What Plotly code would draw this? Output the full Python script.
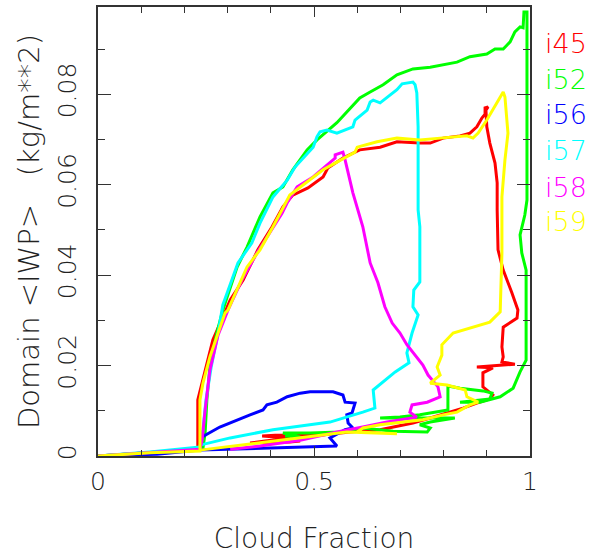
import plotly.graph_objects as go

# ---- data (cloud fraction, domain-mean IWP) ----
cf_i45 = [0, 0.120, 0.231, 0.231, 0.248, 0.266, 0.289, 0.306, 0.336, 0.370, 0.403, 0.428, 0.451, 0.486,
          0.521, 0.532, 0.567, 0.606, 0.653, 0.692, 0.745, 0.769, 0.799, 0.838, 0.861, 0.877, 0.889, 0.896,
          0.896, 0.903, 0.898, 0.900, 0.907, 0.919, 0.924, 0.924, 0.926, 0.938, 0.958, 0.972, 0.970, 0.938,
          0.935, 0.938, 0.935, 0.965, 0.877, 0.914, 0.891, 0.891, 0.914, 0.907, 0.877, 0.845, 0.769, 0.729,
          0.653, 0.583, 0.514, 0.410, 0.380, 0.444, 0.387, 0.352, 0.444, 0.468]
iwp_i45 = [0, 0.0007, 0.0015, 0.0124, 0.0190, 0.0257, 0.0307, 0.0345, 0.0389, 0.0456, 0.0507, 0.0551, 0.0577,
           0.0593, 0.0617, 0.0637, 0.0659, 0.0677, 0.0683, 0.0695, 0.0692, 0.0692, 0.0703, 0.0708, 0.0714,
           0.0728, 0.0748, 0.0756, 0.0770, 0.0772, 0.0765, 0.0728, 0.0692, 0.0648, 0.0604, 0.0544, 0.0456,
           0.0411, 0.0361, 0.0323, 0.0305, 0.0285, 0.0241, 0.0219, 0.0208, 0.0203, 0.0197, 0.0195, 0.0184,
           0.0153, 0.0135, 0.0126, 0.0117, 0.0106, 0.0084, 0.0073, 0.0058, 0.0053, 0.0046, 0.0046, 0.0044,
           0.0040, 0.0033, 0.0029, 0.0031, 0.0033]

cf_i52 = [0, 0.074, 0.144, 0.213, 0.243, 0.248, 0.252, 0.259, 0.275, 0.289, 0.322, 0.345, 0.375, 0.405, 0.428,
          0.451, 0.484, 0.507, 0.553, 0.576, 0.606, 0.630, 0.660, 0.692, 0.729, 0.769, 0.799, 0.831, 0.861,
          0.900, 0.919, 0.938, 0.947, 0.954, 0.965, 0.977, 0.984, 0.986, 0.993, 0.993, 0.993, 0.988, 0.977,
          0.981, 0.991, 0.991, 0.977, 0.961, 0.931, 0.884, 0.838, 0.907, 0.912, 0.891, 0.838, 0.810, 0.810,
          0.745, 0.699, 0.653, 0.826, 0.769, 0.745, 0.769, 0.762, 0.683, 0.613, 0.560, 0.491, 0.428, 0.468,
          0.433]
iwp_i52 = [0, 0.0004, 0.0009, 0.0013, 0.0018, 0.0051, 0.0124, 0.0197, 0.0272, 0.0323, 0.0418, 0.0462, 0.0529,
           0.0582, 0.0595, 0.0633, 0.0677, 0.0699, 0.0737, 0.0761, 0.0792, 0.0805, 0.0821, 0.0843, 0.0856,
           0.0860, 0.0865, 0.0871, 0.0883, 0.0889, 0.0900, 0.0900, 0.0909, 0.0916, 0.0938, 0.0949, 0.0947,
           0.0982, 0.0982, 0.0958, 0.0566, 0.0533, 0.0489, 0.0449, 0.0411, 0.0212, 0.0186, 0.0150, 0.0131,
           0.0119, 0.0119, 0.0126, 0.0139, 0.0144, 0.0150, 0.0155, 0.0102, 0.0091, 0.0086, 0.0084, 0.0084,
           0.0075, 0.0069, 0.0062, 0.0053, 0.0055, 0.0062, 0.0053, 0.0051, 0.0051, 0.0042, 0.0044]

cf_i56 = [0, 0.137, 0.236, 0.553, 0.537, 0.572, 0.590, 0.579, 0.576, 0.588, 0.595, 0.572, 0.567, 0.544, 0.491,
          0.468, 0.438, 0.414, 0.391, 0.382, 0.352, 0.313, 0.282, 0.248, 0.238, 0.238]
iwp_i56 = [0, 0.0004, 0.0013, 0.0022, 0.0040, 0.0058, 0.0062, 0.0073, 0.0091, 0.0095, 0.0117, 0.0119, 0.0135,
           0.0142, 0.0142, 0.0139, 0.0131, 0.0119, 0.0113, 0.0102, 0.0091, 0.0075, 0.0064, 0.0046, 0.0040,
           0.0024]

cf_i57 = [0, 0.120, 0.236, 0.243, 0.250, 0.262, 0.278, 0.289, 0.324, 0.356, 0.375, 0.405, 0.438, 0.456, 0.498,
          0.507, 0.514, 0.530, 0.553, 0.590, 0.595, 0.623, 0.630, 0.637, 0.653, 0.676, 0.692, 0.704, 0.729,
          0.734, 0.738, 0.741, 0.741, 0.745, 0.745, 0.731, 0.729, 0.741, 0.727, 0.715, 0.720, 0.688, 0.637,
          0.641, 0.613, 0.537, 0.405, 0.306, 0.236]
iwp_i57 = [0, 0.0009, 0.0020, 0.0058, 0.0124, 0.0197, 0.0272, 0.0334, 0.0427, 0.0471, 0.0515, 0.0573, 0.0610,
           0.0639, 0.0683, 0.0706, 0.0717, 0.0721, 0.0714, 0.0728, 0.0743, 0.0765, 0.0783, 0.0787, 0.0781,
           0.0798, 0.0810, 0.0823, 0.0827, 0.0821, 0.0803, 0.0728, 0.0544, 0.0507, 0.0385, 0.0367, 0.0330,
           0.0312, 0.0272, 0.0228, 0.0206, 0.0186, 0.0146, 0.0106, 0.0097, 0.0075, 0.0058, 0.0040, 0.0024]

cf_i58 = [0, 0.120, 0.236, 0.241, 0.248, 0.259, 0.278, 0.301, 0.333, 0.368, 0.398, 0.426, 0.438, 0.461, 0.498,
          0.532, 0.549, 0.549, 0.567, 0.572, 0.590, 0.613, 0.630, 0.648, 0.664, 0.681, 0.699, 0.715, 0.734,
          0.752, 0.764, 0.787, 0.792, 0.762, 0.727, 0.722, 0.738, 0.669, 0.613, 0.553, 0.468, 0.375, 0.306]
iwp_i58 = [0, 0.0007, 0.0015, 0.0035, 0.0102, 0.0190, 0.0268, 0.0323, 0.0389, 0.0449, 0.0493, 0.0537, 0.0560,
           0.0595, 0.0617, 0.0644, 0.0659, 0.0666, 0.0672, 0.0655, 0.0582, 0.0507, 0.0427, 0.0383, 0.0330,
           0.0294, 0.0272, 0.0246, 0.0223, 0.0201, 0.0179, 0.0153, 0.0131, 0.0119, 0.0113, 0.0097, 0.0086,
           0.0075, 0.0064, 0.0053, 0.0035, 0.0022, 0.0015]

cf_i59 = [0, 0.120, 0.236, 0.236, 0.243, 0.259, 0.278, 0.294, 0.301, 0.345, 0.375, 0.405, 0.444, 0.475, 0.521,
          0.553, 0.595, 0.600, 0.646, 0.692, 0.745, 0.792, 0.831, 0.854, 0.868, 0.880, 0.900, 0.914, 0.931,
          0.938, 0.942, 0.949, 0.942, 0.935, 0.935, 0.931, 0.907, 0.822, 0.796, 0.796, 0.785, 0.792, 0.769,
          0.808, 0.850, 0.854, 0.880, 0.861, 0.831, 0.799, 0.752, 0.706, 0.653, 0.613, 0.600, 0.653, 0.692,
          0.576, 0.421, 0.236]
iwp_i59 = [0, 0.0007, 0.0011, 0.0124, 0.0161, 0.0219, 0.0272, 0.0316, 0.0323, 0.0418, 0.0456, 0.0507, 0.0577,
           0.0599, 0.0633, 0.0650, 0.0672, 0.0683, 0.0695, 0.0703, 0.0699, 0.0703, 0.0706, 0.0708, 0.0703,
           0.0714, 0.0743, 0.0765, 0.0794, 0.0805, 0.0794, 0.0714, 0.0655, 0.0573, 0.0449, 0.0319, 0.0296,
           0.0272, 0.0246, 0.0223, 0.0197, 0.0179, 0.0161, 0.0157, 0.0146, 0.0131, 0.0119, 0.0113, 0.0097,
           0.0091, 0.0080, 0.0075, 0.0069, 0.0062, 0.0053, 0.0051, 0.0049, 0.0053, 0.0035, 0.0013]

run_names = ["i45", "i52", "i56", "i57", "i58", "i59"]
run_colors = ["#ff0000", "#00ff00", "#0000ff", "#00ffff", "#ff00ff", "#ffff00"]
series_x = [cf_i45, cf_i52, cf_i56, cf_i57, cf_i58, cf_i59]
series_y = [iwp_i45, iwp_i52, iwp_i56, iwp_i57, iwp_i58, iwp_i59]

x_tick_vals = [0, 0.5, 1]
x_tick_text = ["0", "0.5", "1"]
y_tick_vals = [0, 0.02, 0.04, 0.06, 0.08]
y_tick_text = ["0", "0.02", "0.04", "0.06", "0.08"]

FONT = "DejaVu Sans"
TXT = "#222222"

fig = go.Figure()
for name, col, xs, ys in zip(run_names, run_colors, series_x, series_y):
    fig.add_trace(go.Scatter(x=xs, y=ys, mode="lines", name=name,
                             line=dict(color=col, width=3), showlegend=False))

# legend labels on the right
label_y = [0.9176, 0.8396, 0.7595, 0.6815, 0.5991, 0.5212]
for name, col, ly in zip(run_names, run_colors, label_y):
    fig.add_annotation(text=name, xref="paper", yref="paper", x=1.031, y=ly,
                       xanchor="left", yanchor="middle", showarrow=False,
                       font=dict(family=FONT, size=27, color=col, weight=300))

axis_common = dict(showline=True, linecolor="#333333", linewidth=1.5, mirror="ticks",
                   ticks="inside", showgrid=False, zeroline=False, automargin=False,
                   tickfont=dict(family=FONT, size=25, color=TXT, weight=300),
                   tickcolor="#333333", tickwidth=1.2)

fig.update_xaxes(range=[0, 1], tickvals=x_tick_vals, ticktext=x_tick_text, ticklen=10,
                 ticklabelstandoff=2,
                 minor=dict(dtick=0.1, ticks="inside", ticklen=6, tickcolor="#333333", tickwidth=1.2, showgrid=False),
                 title=dict(text="Cloud Fraction", font=dict(family=FONT, size=28, color=TXT, weight=300), standoff=34),
                 **axis_common)
fig.update_yaxes(range=[0, 0.0993], tickvals=y_tick_vals, ticktext=y_tick_text, ticklen=13, tickangle=-90,
                 ticklabelstandoff=10,
                 minor=dict(dtick=0.01, ticks="inside", ticklen=7, tickcolor="#333333", tickwidth=1.2, showgrid=False),
                 title=dict(text="Domain &lt;IWP&gt;   (kg/m**2)", font=dict(family=FONT, size=29, color=TXT, weight=300), standoff=5),
                 **axis_common)

fig.update_layout(width=597, height=557, margin=dict(l=98, r=67, t=7, b=101),
                  paper_bgcolor="white", plot_bgcolor="white", showlegend=False)

fig.write_html("out.html", config={"displayModeBar": False},
               post_script="document.body.style.margin='0';document.body.style.overflow='hidden';")
